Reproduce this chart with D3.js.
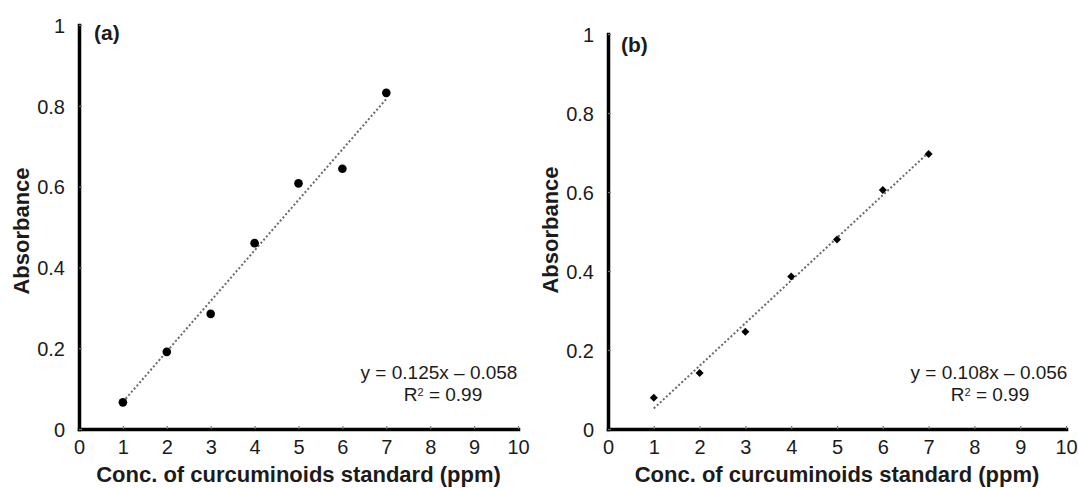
<!DOCTYPE html>
<html>
<head>
<meta charset="utf-8">
<script src="https://cdn.jsdelivr.net/npm/d3@7"></script>
<style>
  html, body { margin: 0; padding: 0; background: #fff; }
  svg { display: block; font-family: "Liberation Sans", Arial, sans-serif; }
</style>
</head>
<body>
<svg id="chart" width="1078" height="488"></svg>
<script>
// ---- data ----
const xTickValues = [0, 1, 2, 3, 4, 5, 6, 7, 8, 9, 10];
const yTickValues = [0, 0.2, 0.4, 0.6, 0.8, 1];
const yTickLabels = ["0", "0.2", "0.4", "0.6", "0.8", "1"];

const concA = [1, 2, 3, 4, 5, 6, 7];
const absA  = [0.066, 0.191, 0.285, 0.460, 0.608, 0.644, 0.832];
const fitA  = [0.125, -0.058];           // slope, intercept
const eqA   = ["y = 0.125x \u2013 0.058", "R\u00B2 = 0.99"];

const concB = [1, 2, 3, 4, 5, 6, 7];
const absB  = [0.079, 0.142, 0.246, 0.386, 0.480, 0.605, 0.696];
const fitB  = [0.108, -0.056];
const eqB   = ["y = 0.108x \u2013 0.056", "R\u00B2 = 0.99"];

const panelLabels = ["(a)", "(b)"];
const xTitle = "Conc. of curcuminoids standard (ppm)";
const yTitle = "Absorbance";

// ---- drawing ----
const svg = d3.select("#chart");
const textColor = "#1b1b1b";

function drawPanel(cfg) {
  const x = d3.scaleLinear().domain([0, 10]).range([cfg.x0, cfg.x1]);
  const y = d3.scaleLinear().domain([0, 1]).range([cfg.y0, cfg.y1]);
  const g = svg.append("g");

  // trendline (dotted)
  const fitPts = [cfg.conc[0], cfg.conc[cfg.conc.length - 1]].map(v => [v, cfg.fit[0] * v + cfg.fit[1]]);
  g.append("path")
    .attr("d", d3.line().x(d => x(d[0])).y(d => y(d[1]))(fitPts))
    .attr("fill", "none")
    .attr("stroke", "#6a6a6a")
    .attr("stroke-width", 2)
    .attr("stroke-dasharray", "2,2.2");

  // markers
  if (cfg.marker === "circle") {
    g.selectAll("circle.pt").data(cfg.conc).join("circle")
      .attr("class", "pt")
      .attr("cx", (d) => x(d))
      .attr("cy", (d, i) => y(cfg.abs[i]))
      .attr("r", 4.3)
      .attr("fill", "#000");
  } else {
    const sym = d3.symbol().type(d3.symbolSquare).size(32);
    g.selectAll("path.pt").data(cfg.conc).join("path")
      .attr("class", "pt")
      .attr("d", sym)
      .attr("transform", (d, i) => `translate(${x(d)},${y(cfg.abs[i])}) rotate(45)`)
      .attr("fill", "#000");
  }

  // x axis
  const xa = g.append("g")
    .attr("transform", `translate(0,${cfg.y0})`)
    .call(d3.axisBottom(x).tickValues(xTickValues).tickFormat(d3.format("d"))
      .tickSizeInner(-3).tickSizeOuter(0).tickPadding(11));
  // y axis
  const ya = g.append("g")
    .attr("transform", `translate(${cfg.x0},0)`)
    .call(d3.axisLeft(y).tickValues(yTickValues).tickFormat((d, i) => yTickLabels[i])
      .tickSizeInner(-3).tickSizeOuter(0).tickPadding(14));

  [xa, ya].forEach(a => {
    a.select(".domain").attr("stroke", "#000").attr("stroke-width", 3.5).attr("stroke-linecap", "square");
    a.selectAll(".tick line").attr("stroke", "#777").attr("stroke-width", 1.2);
    a.selectAll(".tick text").attr("fill", textColor)
      .style("font-size", "20px").style("font-family", "'Liberation Sans', Arial, sans-serif");
  });
  ya.selectAll(".tick text").attr("dy", "0.36em");

  // axis titles
  g.append("text")
    .attr("x", (cfg.x0 + cfg.x1) / 2).attr("y", cfg.xTitleY)
    .attr("text-anchor", "middle")
    .attr("fill", textColor).style("font-size", "22px").style("font-weight", "bold")
    .text(xTitle);
  g.append("text")
    .attr("transform", `translate(${cfg.yTitleX},${cfg.yTitleCY}) rotate(-90)`)
    .attr("text-anchor", "middle").attr("dy", "0.35em")
    .attr("fill", textColor).style("font-size", "22px").style("font-weight", "bold")
    .text(yTitle);

  // panel label
  g.append("text")
    .attr("x", cfg.labelX).attr("y", cfg.labelY)
    .attr("fill", textColor).style("font-size", "21px").style("font-weight", "bold")
    .text(cfg.label);

  // equation
  g.append("text")
    .attr("x", cfg.eqX).attr("y", cfg.eqY1)
    .attr("text-anchor", "middle").attr("dy", "0.35em")
    .attr("fill", textColor).style("font-size", "19px")
    .text(cfg.eq[0]);
  const r2 = g.append("text")
    .attr("x", cfg.eqX2).attr("y", cfg.eqY2)
    .attr("text-anchor", "middle").attr("dy", "0.35em")
    .attr("fill", textColor).style("font-size", "19px");
  const parts = cfg.eq[1].split("\u00B2");
  r2.append("tspan").text(parts[0]);
  r2.append("tspan").text("2").style("font-size", "11px").attr("dy", "-0.45em");
  r2.append("tspan").text(parts[1]).attr("dy", "0.3em");
}

drawPanel({
  x0: 79, x1: 518, y0: 429, y1: 25,
  conc: concA, abs: absA, fit: fitA, eq: eqA, marker: "circle",
  label: panelLabels[0], labelX: 94, labelY: 40,
  xTitleY: 482, yTitleX: 21, yTitleCY: 231,
  eqX: 439, eqX2: 443, eqY1: 372, eqY2: 394
});

drawPanel({
  x0: 608, x1: 1066, y0: 429, y1: 34,
  conc: concB, abs: absB, fit: fitB, eq: eqB, marker: "diamond",
  label: panelLabels[1], labelX: 621, labelY: 52,
  xTitleY: 482, yTitleX: 550, yTitleCY: 230,
  eqX: 989, eqX2: 990, eqY1: 372, eqY2: 394
});
</script>
</body>
</html>
